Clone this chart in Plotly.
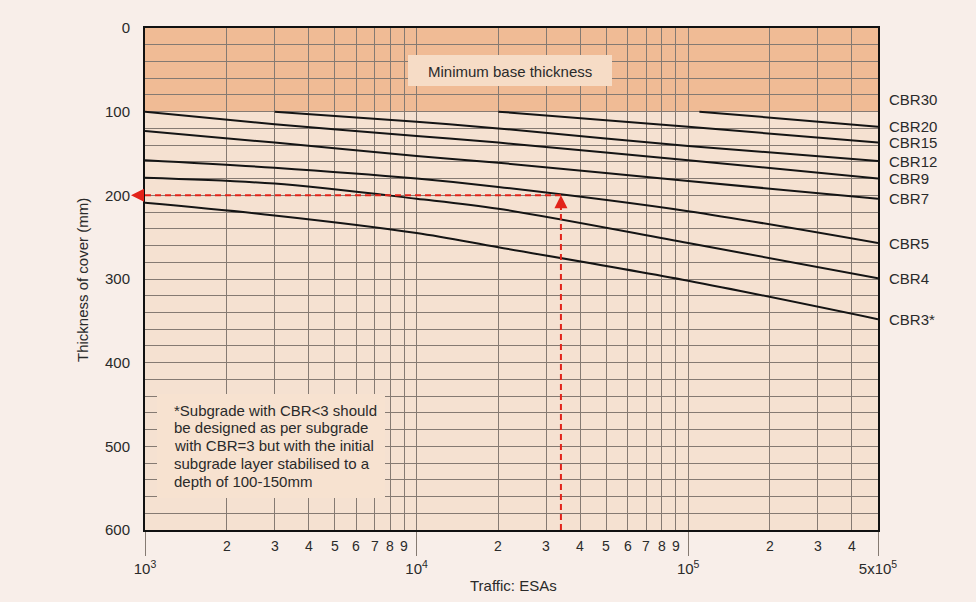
import math
import plotly.graph_objects as go

# ---------------- data ----------------
x_full = [1e3, 3e3, 1e4, 2e4, 1e5, 5e5]
cbr9 = [100, 115, 129, 137, 158, 180]
cbr7 = [123, 137, 153, 161, 183, 204]
cbr5 = [158, 167, 180, 190, 219, 257]
cbr4 = [179, 186, 204, 216, 257, 299]
cbr3 = [209, 224, 245, 262, 302, 348]
x_cbr12 = [3e3, 1e4, 2e4, 1e5, 5e5]
cbr12 = [100, 112, 120, 141, 159]
x_cbr15 = [2e4, 1e5, 5e5]
cbr15 = [100, 118, 137]
x_cbr20 = [1.1e5, 5e5]
cbr20 = [100, 118]

curve_names = ["CBR20", "CBR15", "CBR12", "CBR9", "CBR7", "CBR5", "CBR4", "CBR3*"]
curve_x = [x_cbr20, x_cbr15, x_cbr12, x_full, x_full, x_full, x_full, x_full]
curve_y = [cbr20, cbr15, cbr12, cbr9, cbr7, cbr5, cbr4, cbr3]
cbr30_label_y = 85
min_base = 100

example_traffic = 3.4e4
example_cover = 200

y_ticks = [0, 100, 200, 300, 400, 500, 600]
x_major = [1e3, 1e4, 1e5, 5e5]
x_major_text = ["10<sup>3</sup>", "10<sup>4</sup>", "10<sup>5</sup>", "5x10<sup>5</sup>"]
x_minor = [2e3, 3e3, 4e3, 5e3, 6e3, 7e3, 8e3, 9e3,
           2e4, 3e4, 4e4, 5e4, 6e4, 7e4, 8e4, 9e4,
           2e5, 3e5, 4e5]

footnote_lines = ["*Subgrade with CBR<3 should",
                  "be designed as per subgrade",
                  "with CBR=3 but with the initial",
                  "subgrade layer stabilised to a",
                  "depth of 100-150mm"]

# ---------------- layout helpers ----------------
W, H = 976, 602
L, R, T, B = 145, 878, 28, 530


def px_x(px):
    return (px - L) / (R - L)


def px_y(py):
    return (B - py) / (B - T)


FONT = "Liberation Sans, Arial, Helvetica, sans-serif"
TXT = "#2a2a2a"
GRID = "#857a72"
RED = "#e2231a"

fig = go.Figure()

for xs, ys, nm in zip(curve_x, curve_y, curve_names):
    fig.add_trace(go.Scatter(x=xs, y=ys, mode="lines", name=nm,
                             line=dict(color="#141414", width=2, shape="spline", smoothing=0.9),
                             showlegend=False, hoverinfo="skip"))

# example red dashed path
fig.add_trace(go.Scatter(x=[x_full[0], example_traffic], y=[example_cover, example_cover],
                         mode="lines", line=dict(color=RED, width=2, dash="6px,4px"),
                         showlegend=False, hoverinfo="skip"))
fig.add_trace(go.Scatter(x=[example_traffic, example_traffic], y=[y_ticks[-1], example_cover + 8],
                         mode="lines", line=dict(color=RED, width=2, dash="6px,4px"),
                         showlegend=False, hoverinfo="skip", cliponaxis=False))

shapes = [
    dict(type="rect", xref="paper", yref="y", x0=0, x1=1, y0=0, y1=min_base,
         fillcolor="#f0bb95", line=dict(width=0), layer="below"),
    dict(type="rect", xref="paper", yref="paper", x0=px_x(408), x1=px_x(612),
         y0=px_y(86), y1=px_y(55), fillcolor="#f6dcc6", line=dict(width=0), layer="above"),
    dict(type="rect", xref="paper", yref="paper", x0=px_x(157), x1=px_x(385),
         y0=px_y(498), y1=px_y(394), fillcolor="#f7e2d0", line=dict(width=0), layer="above"),
]

annotations = []
annotations.append(dict(text="Minimum base thickness", xref="paper", yref="paper",
                        x=px_x(510), y=px_y(71), xanchor="center", yanchor="middle", showarrow=False,
                        font=dict(family=FONT, size=15, color=TXT)))
for i, line in enumerate(footnote_lines):
    annotations.append(dict(text=line, xref="paper", yref="paper", xanchor="left", yanchor="middle",
                            x=px_x(172), y=px_y(410 + i * 17.8), showarrow=False,
                            font=dict(family=FONT, size=15, color=TXT)))

# CBR labels on the right
annotations.append(dict(text="CBR30", xref="paper", yref="y", x=px_x(887), y=cbr30_label_y,
                        xanchor="left", yanchor="middle", showarrow=False,
                        font=dict(family=FONT, size=15, color=TXT)))
for ys, nm in zip(curve_y, curve_names):
    annotations.append(dict(text=nm, xref="paper", yref="y", x=px_x(887), y=ys[-1],
                            xanchor="left", yanchor="middle", showarrow=False,
                            font=dict(family=FONT, size=15, color=TXT)))

# minor tick labels
for v in x_minor:
    annotations.append(dict(text=str(int(round(v / 10 ** math.floor(math.log10(v))))),
                            xref="x", yref="paper", x=math.log10(v), y=px_y(546),
                            xanchor="center", yanchor="middle",
                            showarrow=False, font=dict(family=FONT, size=14, color=TXT)))

# axis titles
annotations.append(dict(text="Traffic: ESAs", xref="paper", yref="paper", x=px_x(513), y=px_y(585),
                        xanchor="center", yanchor="middle",
                        showarrow=False, font=dict(family=FONT, size=15, color=TXT)))
annotations.append(dict(text="Thickness of cover (mm)", xref="paper", yref="paper", x=px_x(82),
                        y=px_y(280), xanchor="center", yanchor="middle", textangle=-90, showarrow=False,
                        font=dict(family=FONT, size=15, color=TXT)))

# arrow heads
annotations.append(dict(text="", xref="paper", yref="y", x=px_x(131), y=example_cover,
                        ax=14, ay=0, showarrow=True, arrowhead=2, arrowsize=1.3,
                        arrowwidth=2, arrowcolor=RED))
annotations.append(dict(text="", xref="x", yref="y", x=math.log10(example_traffic), y=example_cover,
                        ax=0, ay=14, showarrow=True, arrowhead=2, arrowsize=1.3,
                        arrowwidth=2, arrowcolor=RED))

fig.update_layout(
    width=W, height=H,
    margin=dict(l=L, r=W - R, t=T, b=H - B),
    paper_bgcolor="#f8eee9",
    plot_bgcolor="#f5e1d1",
    shapes=shapes,
    annotations=annotations,
    font=dict(family=FONT, size=15, color=TXT),
)

fig.update_xaxes(
    type="log", range=[math.log10(x_major[0]), math.log10(x_major[-1])],
    tickmode="array", tickvals=x_major, ticktext=x_major_text,
    ticks="outside", ticklen=24, tickcolor=GRID, tickwidth=1,
    ticklabelstandoff=0,
    tickfont=dict(family=FONT, size=15, color=TXT),
    showgrid=True, gridcolor=GRID, gridwidth=1,
    minor=dict(tickmode="array", tickvals=x_minor, showgrid=True, gridcolor=GRID, gridwidth=1, ticks=""),
    showline=True, linecolor="#111111", linewidth=2, mirror=True,
    zeroline=False,
)
fig.update_yaxes(
    range=[y_ticks[-1], y_ticks[0]],
    tickmode="array", tickvals=y_ticks,
    ticks="", ticklabelstandoff=10,
    tickfont=dict(family=FONT, size=15, color=TXT),
    showgrid=True, gridcolor=GRID, gridwidth=1,
    minor=dict(tickmode="linear", tick0=0, dtick=20, showgrid=True, gridcolor=GRID, gridwidth=1),
    showline=True, linecolor="#111111", linewidth=2, mirror=True,
    zeroline=False,
)

fig.write_html("out.html")
